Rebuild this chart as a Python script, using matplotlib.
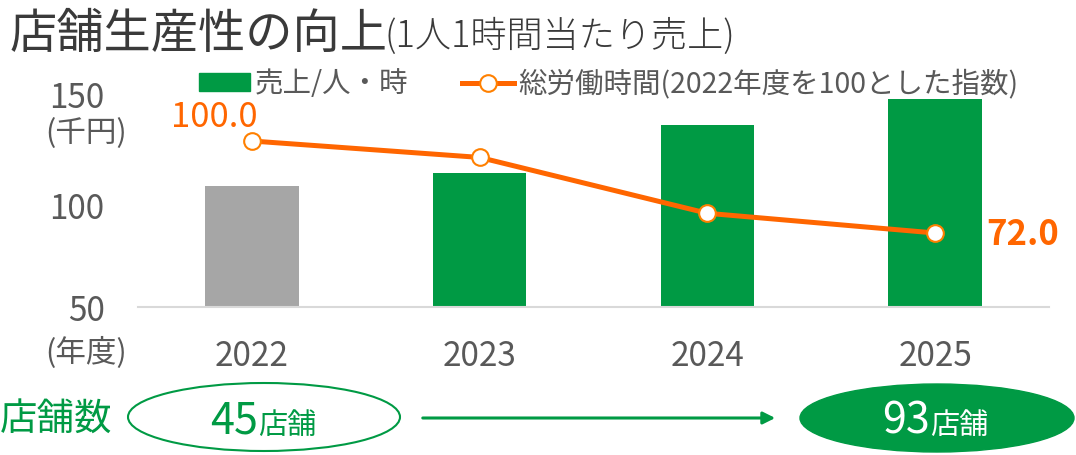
import matplotlib.pyplot as plt
from matplotlib.patches import Ellipse, FancyArrowPatch, Patch
from matplotlib.lines import Line2D
from matplotlib.transforms import ScaledTranslation

plt.rcParams['font.family'] = ['Noto Sans CJK JP', 'DejaVu Sans']
plt.rcParams['font.weight'] = 'regular'

# ---- data ----
years = ['2022', '2023', '2024', '2025']
sales_per_hour = [109.3, 115.5, 139.2, 152.0]      # 千円
work_hours_index = [100.0, 95.0, 78.0, 72.0]      # 2022 = 100
bar_colors = ['#A6A6A6', '#009A44', '#009A44', '#009A44']
store_counts = [45, 93]
y_ticks = [50, 100, 150]

GREEN = '#009A44'
ORANGE = '#FF6600'
GREY = '#595959'
DARK = '#3A3A3A'

W, H = 1076, 455
fig = plt.figure(figsize=(W / 100, H / 100), dpi=100)

# axes placed in pixel terms
left, right, bottom, top = 138, 1049, 307, 93
ax = fig.add_axes([left / W, 1 - bottom / H, (right - left) / W, (bottom - top) / H])

x = range(len(years))
ax.bar(x, sales_per_hour, width=0.41, color=bar_colors, zorder=2)
ax.set_xlim(-0.5, 3.5)
ax.set_ylim(50, 50 + (bottom - top) / 102 * 50)
ax.set_yticks(y_ticks)
ax.set_yticklabels([str(v) for v in y_ticks])
ax.set_xticks(list(x))
ax.set_xticklabels(years)
ax.tick_params(axis='both', length=0, colors=GREY, labelsize=24)
ax.tick_params(axis='y', pad=24)
ax.tick_params(axis='x', pad=23)
# nudge the top label up so it clears the unit text
top_lbl = ax.get_yticklabels()[-1]
top_lbl.set_transform(top_lbl.get_transform() + ScaledTranslation(0, 6 / 72, fig.dpi_scale_trans))
for s in ['top', 'right', 'left']:
    ax.spines[s].set_visible(False)
ax.spines['bottom'].set_color('#D9D9D9')
ax.spines['bottom'].set_linewidth(1.5)

# secondary axis for the index line
ax2 = ax.twinx()
px_per_unit = 92 / 28
ax2.set_ylim(72 - (bottom - 233) / px_per_unit, 100 + (141 - top) / px_per_unit)
ax2.plot(x, work_hours_index, color=ORANGE, lw=3.6, marker='o', ms=12,
         mfc='white', mec='#FF8000', mew=1.5, zorder=3)
ax2.axis('off')
ax2.annotate(f'{work_hours_index[0]:.1f}', (0, work_hours_index[0]),
             xytext=(-27, 17), textcoords='offset points', ha='center', va='center',
             color=ORANGE, fontsize=25)
ax2.annotate(f'{work_hours_index[-1]:.1f}', (3, work_hours_index[-1]),
             xytext=(37, -1), textcoords='offset points', ha='left', va='center',
             color=ORANGE, fontsize=25, fontweight='bold')

# legend
handles = [Patch(color=GREEN),
           Line2D([], [], color=ORANGE, lw=3.6, marker='o', ms=12,
                  mfc='white', mec='#FF8000', mew=1.5)]
labels = ['売上/人・時', '総労働時間(2022年度を100とした指数)']
fig.legend(handles, labels, loc='upper left', bbox_to_anchor=(185 / W, 1 - 55 / H),
           ncol=2, frameon=False, fontsize=20.5, labelcolor=GREY, borderpad=0,
           handlelength=1.8, handleheight=0.6, handletextpad=0.15, columnspacing=1.9)

# overlay in pixel coordinates for titles and the store count row
ov = fig.add_axes([0, 0, 1, 1], zorder=-1)
ov.set_xlim(0, W)
ov.set_ylim(H, 0)
ov.axis('off')

ov.text(10, 48, '店舗生産性の向上', fontsize=34, color=DARK, va='baseline')
ov.text(384, 47, '(1人1時間当たり売上)', fontsize=26, color=DARK, va='baseline',
        fontweight='light')

ov.text(86, 134, '(千円)', fontsize=22, color=GREY, ha='center', va='center')
ov.text(86, 353, '(年度)', fontsize=22, color=GREY, ha='center', va='center')

ov.text(0, 419, '店舗数', fontsize=27, color=GREEN, va='center')
ov.add_patch(Ellipse((264, 417), 272, 68, fill=False, ec=GREEN, lw=1.5))
ov.text(258, 434, str(store_counts[0]), fontsize=31, color=GREEN, ha='right', va='baseline')
ov.text(258, 434, '店舗', fontsize=21, color=GREEN, ha='left', va='baseline')

ov.add_patch(FancyArrowPatch((420, 418), (778, 418), arrowstyle='-|>',
                             mutation_scale=18, color=GREEN, lw=2.2))

ov.add_patch(Ellipse((937, 418), 274, 68, fc=GREEN, ec=GREEN))
ov.text(930, 434, str(store_counts[1]), fontsize=31, color='white', ha='right', va='baseline')
ov.text(930, 434, '店舗', fontsize=21, color='white', ha='left', va='baseline')

fig.savefig('out.png', dpi=100)
